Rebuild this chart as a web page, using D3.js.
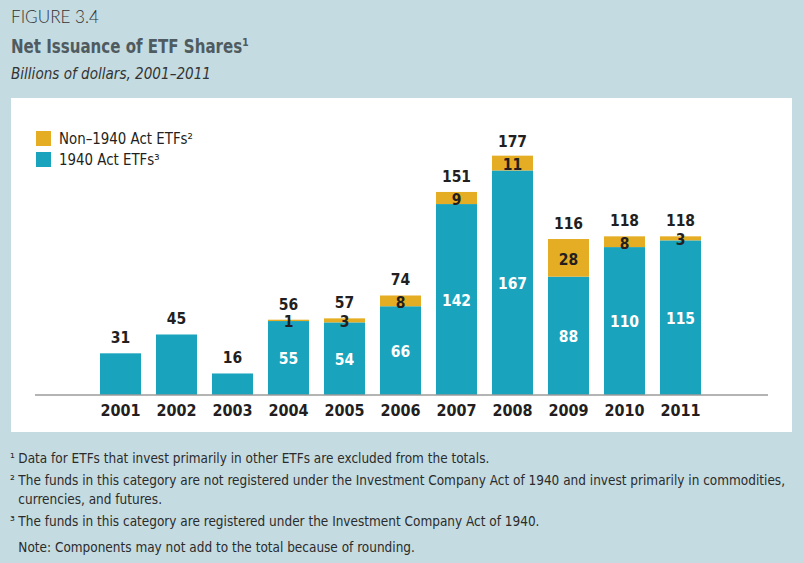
<!DOCTYPE html>
<html>
<head>
<meta charset="utf-8">
<script src="https://cdn.jsdelivr.net/npm/d3@7"></script>
<style>
  body { margin: 0; background: #c4dbe1; }
  svg text { font-family: "DejaVu Sans Condensed", "Open Sans", sans-serif; }
</style>
</head>
<body>
<div id="chart"></div>
<script>
// data
let years = ['2001', '2002', '2003', '2004', '2005', '2006', '2007', '2008', '2009', '2010', '2011'];
let act1940 = [31, 45, 16, 55, 54, 66, 142, 167, 88, 110, 115];
let non1940 = [0, 0, 0, 1, 3, 8, 9, 11, 28, 8, 3];
let totals = [31, 45, 16, 56, 57, 74, 151, 177, 116, 118, 118];
let legendLabels = ['Non\u20131940 Act ETFs\u00b2', '1940 Act ETFs\u00b3'];
let footnotes = [
  ['\u00b9', 'Data for ETFs that invest primarily in other ETFs are excluded from the totals.'],
  ['\u00b2', 'The funds in this category are not registered under the Investment Company Act of 1940 and invest primarily in commodities,'],
  ['', 'currencies, and futures.'],
  ['\u00b3', 'The funds in this category are registered under the Investment Company Act of 1940.'],
  ['', 'Note: Components may not add to the total because of rounding.']
];

let w = 804;
let h = 563;
let teal = '#19a3bd';
let gold = '#e5ad24';

let svg = d3.select('#chart').
append('svg').
attr('width', w).
attr('height', h);

//squeeze a group horizontally so its widest text fits a width, anchored at x0
function squeeze(g, x0, width) {
  let widest = 0;
  g.selectAll('text').each(function () {
    widest = Math.max(widest, this.getComputedTextLength());
  });
  let k = Math.min(1, width / widest);
  g.attr('transform', 'translate(' + x0 + ',0) scale(' + k + ',1) translate(' + (-x0) + ',0)');
}

//background + white panel
svg.append('rect').attr('width', w).attr('height', h).attr('fill', '#c4dbe1');
svg.append('rect').
attr('x', 11).attr('y', 98).
attr('width', 781).attr('height', 334).
attr('fill', '#ffffff');

//headings
let figG = svg.append('g');
figG.append('text').
text('FIGURE 3.4').
attr('x', 11).attr('y', 23).
style('font-family', 'Lato, "DejaVu Sans Condensed", sans-serif').
style('font-size', '18.5px').
style('font-weight', 300).
attr('fill', '#333333');
squeeze(figG, 11, 88);

let titleG = svg.append('g');
titleG.append('text').
text('Net Issuance of ETF Shares\u00b9').
attr('x', 11).attr('y', 53).
style('font-size', '19.5px').
style('font-weight', 'bold').
attr('fill', '#4f5b60');
squeeze(titleG, 11, 238);

let subG = svg.append('g');
subG.append('text').
text('Billions of dollars, 2001\u20132011').
attr('x', 11).attr('y', 79).
style('font-size', '16px').
style('font-style', 'italic').
attr('fill', '#333');
squeeze(subG, 11, 200);

//scales
let xScale = d3.scaleBand().
domain(years).
range([92.5, 708.5]).
paddingInner(0.268).
paddingOuter(0.134);

let yScale = d3.scaleLinear().
domain([0, 177]).
range([395, 157]);

//bars: 1940 act first, then non-1940 stacked on top
svg.selectAll('rect.act').
data(years).
enter().
append('rect').
attr('class', 'act').
attr('x', d => xScale(d)).
attr('width', xScale.bandwidth()).
attr('y', (d, i) => yScale(act1940[i])).
attr('height', (d, i) => yScale(0) - yScale(act1940[i])).
attr('fill', teal);

svg.selectAll('rect.non').
data(years).
enter().
append('rect').
attr('class', 'non').
attr('x', d => xScale(d)).
attr('width', xScale.bandwidth()).
attr('y', (d, i) => yScale(act1940[i] + non1940[i])).
attr('height', (d, i) => yScale(act1940[i]) - yScale(act1940[i] + non1940[i])).
attr('fill', gold);

//x axis line
svg.append('line').
attr('x1', 35).attr('x2', 768).
attr('y1', yScale(0)).attr('y2', yScale(0)).
attr('stroke', '#9b9b9b').
attr('stroke-width', 1.5);

let xAxis = d3.axisBottom(xScale).tickSize(0).tickPadding(9);
let gx = svg.append('g').
attr('transform', 'translate(0,' + (yScale(0) + 1) + ')').
call(xAxis);
gx.select('.domain').remove();
gx.selectAll('text').
style('font-family', '"DejaVu Sans Condensed", sans-serif').
style('font-size', '16px').
style('font-weight', 'bold').
attr('fill', '#231f20');

//value labels
let half = xScale.bandwidth() / 2;

svg.selectAll('text.total').
data(years).
enter().
append('text').
attr('class', 'total').
attr('x', d => xScale(d) + half).
attr('y', (d, i) => yScale(totals[i]) - 10).
attr('text-anchor', 'middle').
style('font-size', '15.5px').
style('font-weight', 'bold').
attr('fill', '#231f20').
text((d, i) => totals[i]);

//segment labels only where both parts exist
let stacked = years.filter((d, i) => non1940[i] > 0);

svg.selectAll('text.nonLbl').
data(stacked).
enter().
append('text').
attr('class', 'nonLbl').
attr('x', d => xScale(d) + half).
attr('y', d => {
  let i = years.indexOf(d);
  return yScale(act1940[i] + non1940[i] / 2) + 7;
}).
attr('text-anchor', 'middle').
style('font-size', '15.5px').
style('font-weight', 'bold').
attr('fill', '#231f20').
text(d => non1940[years.indexOf(d)]);

svg.selectAll('text.actLbl').
data(stacked).
enter().
append('text').
attr('class', 'actLbl').
attr('x', d => xScale(d) + half).
attr('y', d => yScale(act1940[years.indexOf(d)] / 2) + 6).
attr('text-anchor', 'middle').
style('font-size', '15.5px').
style('font-weight', 'bold').
attr('fill', '#ffffff').
text(d => act1940[years.indexOf(d)]);

//legend
let legend = svg.append('g').attr('transform', 'translate(36,131)');
legend.selectAll('rect').
data(legendLabels).
enter().
append('rect').
attr('x', 0).
attr('y', (d, i) => i * 21).
attr('width', 15).
attr('height', 15).
attr('fill', (d, i) => i === 0 ? gold : teal);
let legendText = legend.append('g');
legendText.selectAll('text').
data(legendLabels).
enter().
append('text').
attr('x', 23).
attr('y', (d, i) => i * 21 + 13).
style('font-size', '16px').
attr('fill', '#231f20').
text(d => d);
squeeze(legendText, 23, 134);

//footnotes
let fy = [463, 485, 504, 526, 552];
let notes = svg.append('g');
footnotes.forEach((f, i) => {
  let t = notes.append('text').
  attr('x', 10).
  attr('y', fy[i]).
  style('font-size', '14.5px').
  attr('fill', '#2b2b2b');
  t.append('tspan').text(f[0]);
  t.append('tspan').attr('x', 19).text(f[1]);
});
squeeze(notes, 10, 772);
</script>
</body>
</html>
